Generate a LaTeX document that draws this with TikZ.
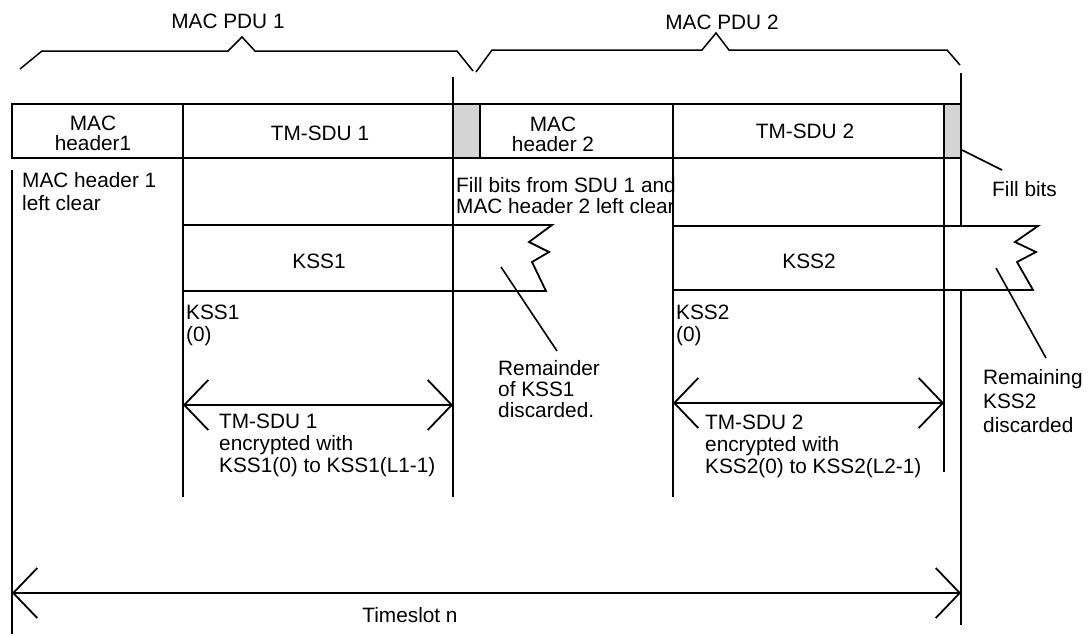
\documentclass[tikz,border=0pt]{standalone}
\usepackage{fontspec}
\setmainfont{Liberation Sans}
\usetikzlibrary{arrows.meta}
\begin{document}
\begin{tikzpicture}[x=1pt,y=-1pt,
  ln/.style={line width=1.8pt},
  br/.style={line width=1.5pt, line join=miter},
  txt/.style={inner sep=0pt, font=\fontsize{20.8}{22}\selectfont},
  fillcell/.style={line width=1.8pt, fill=black!17},
  keybox/.style={line width=1.8pt, fill=white, line join=miter},
  dim/.style={line width=1.8pt, {Straight Barb[length=24pt,width=50pt]}-{Straight Barb[length=24pt,width=50pt]}},
  lead/.style={line width=1.6pt}
]
\useasboundingbox (0,0) rectangle (1088,637);

% braces
\draw[br] (20,69) -- (42,51) -- (228,51) -- (242,37) -- (255,51) -- (457,51) -- (473,71);
\draw[br] (476,72) -- (492,50) -- (702,50) -- (716,33) -- (729,50) -- (947,50) -- (960,65);
\node[txt, anchor=base] (pdu1) at (228,28) {MAC PDU 1};
\node[txt, anchor=base] (pdu2) at (722,30) {MAC PDU 2};

% long right line (under KSS2 box)
\draw[ln] (961,73) -- (961,625);

% key stream boxes
\draw[keybox] (183,225) -- (552,225) -- (529,242) -- (549,252) -- (532,262) -- (546,291) -- (183,291);
\draw[keybox] (673,226) -- (1038,226) -- (1015,242) -- (1036,252) -- (1017,262) -- (1033,290) -- (673,290);
\node[txt, anchor=base] (kss1) at (319,268) {KSS1};
\node[txt, anchor=base] (kss2) at (809,268) {KSS2};

% bar
\draw[ln] (12,104) rectangle (961,158);
\draw[fillcell] (453,104) rectangle (480,158);
\draw[fillcell] (944,104) rectangle (961,158);

% vertical lines
\draw[ln] (12,170) -- (12,634);
\draw[ln] (183,104) -- (183,497);
\draw[ln] (453,77) -- (453,497);
\draw[ln] (673,104) -- (673,497);
\draw[ln] (944,104) -- (944,472);

% bar texts
\node[txt, align=center, anchor=north, font=\fontsize{20.8}{20}\selectfont] (h1) at (93,116) {MAC\\header1};
\node[txt, anchor=base] (sdu1) at (320,140) {TM-SDU 1};
\node[txt, align=center, anchor=north, font=\fontsize{20.8}{20}\selectfont] (h2) at (553,117) {MAC\\header 2};
\node[txt, anchor=base] (sdu2) at (805,138) {TM-SDU 2};

% annotations
\node[txt, align=left, anchor=north west, font=\fontsize{20.8}{23}\selectfont] (clear1) at (22,172) {MAC header 1\\left clear};
\node[txt, align=left, anchor=north west, font=\fontsize{20.8}{21}\selectfont] (clear2) at (456,177) {Fill bits from SDU 1 and\\MAC header 2 left clear};
\node[txt, anchor=base west] (fill) at (992,196) {Fill bits};
\node[txt, align=left, anchor=north west] (k10) at (186,305) {KSS1\\(0)};
\node[txt, align=left, anchor=north west] (k20) at (676,305) {KSS2\\(0)};
\node[txt, align=left, anchor=north west, font=\fontsize{20.8}{21}\selectfont] (rem1) at (498,360) {Remainder\\of KSS1\\discarded.};
\node[txt, align=left, anchor=north west, font=\fontsize{20.8}{24}\selectfont] (rem2) at (983,369) {Remaining\\KSS2\\discarded};
\node[txt, align=left, anchor=north west] (enc1) at (219,414) {TM-SDU 1\\encrypted with\\KSS1(0) to KSS1(L1-1)};
\node[txt, align=left, anchor=north west] (enc2) at (705,415) {TM-SDU 2\\encrypted with\\KSS2(0) to KSS2(L2-1)};
\node[txt, anchor=base] (ts) at (410,622) {Timeslot n};

% leaders
\coordinate (l1a) at (501,267); \coordinate (l1b) at (557,351);
\coordinate (l2a) at (996,268); \coordinate (l2b) at (1046,358);
\coordinate (l3a) at (962,150); \coordinate (l3b) at (1002,170);
\draw[lead] (l1a) -- (l1b);
\draw[lead] (l2a) -- (l2b);
\draw[lead] (l3a) -- (l3b);

% dimension arrows
\coordinate (a1l) at (183,405); \coordinate (a1r) at (453,405);
\coordinate (a2l) at (673,403); \coordinate (a2r) at (944,403);
\coordinate (a3l) at (12,593); \coordinate (a3r) at (961,593);
\draw[dim] (a1l) -- (a1r);
\draw[dim] (a2l) -- (a2r);
\draw[dim] (a3l) -- (a3r);
\end{tikzpicture}
\end{document}
